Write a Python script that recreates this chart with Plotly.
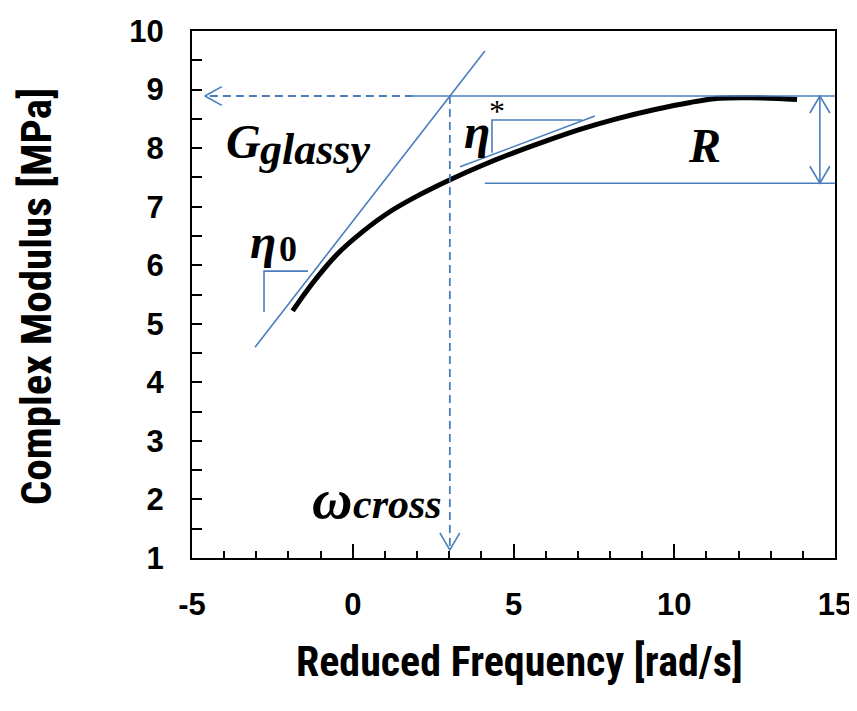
import plotly.graph_objects as go

# ---- data ----
curve_x = [-1.87, -1.24, -0.5, 0.3, 1.2, 2.1, 3.06, 4.0, 5.0, 6.0, 7.07, 8.2, 9.4, 10.5, 11.4, 12.36, 13.82]
curve_y = [5.22, 5.70, 6.18, 6.57, 6.93, 7.21, 7.47, 7.70, 7.92, 8.12, 8.32, 8.50, 8.66, 8.78, 8.85, 8.86, 8.83]

x_ticks = [-5, 0, 5, 10, 15]
y_ticks = [1, 2, 3, 4, 5, 6, 7, 8, 9, 10]

g_glassy_level = 8.89
r_low_level = 7.40
omega_cross = 3.02
glassy_arrow_x = [1.87, -4.6]
glassy_solid_x = [1.87, 15.0]
cross_arrow_y = [g_glassy_level, 1.14]
r_line_x = [4.11, 15.0]
r_arrow_x = 14.53

tangent0_x = [-3.04, 4.11]
tangent0_y = [4.60, 9.66]
tangent_star_x = [3.34, 7.53]
tangent_star_y = [7.68, 8.55]
eta0_tri_x = [-2.76, -2.76, -1.39]
eta0_tri_y = [5.20, 5.90, 5.90]
etastar_tri_x = [4.33, 4.33, 7.13]
etastar_tri_y = [7.92, 8.48, 8.48]

BLUE = "#4A7EBB"
fig = go.Figure()

def line(xs, ys, dash=None, width=1.6, color=BLUE):
    fig.add_trace(go.Scatter(x=xs, y=ys, mode="lines", showlegend=False, hoverinfo="skip",
                             line=dict(color=color, width=width, dash=dash)))

# black master curve
fig.add_trace(go.Scatter(x=curve_x, y=curve_y, mode="lines", showlegend=False,
                         line=dict(color="black", width=5, shape="spline", smoothing=1.0)))

# tangents and triangles
line(tangent0_x, tangent0_y)
line(tangent_star_x, tangent_star_y)
line(eta0_tri_x, eta0_tri_y)
line(etastar_tri_x, etastar_tri_y)

# glassy level lines
line(glassy_arrow_x, [g_glassy_level] * 2, dash="8px,5px", width=1.8)
line(glassy_solid_x, [g_glassy_level] * 2)
line([omega_cross] * 2, cross_arrow_y, dash="8px,5px", width=1.8)
line(r_line_x, [r_low_level] * 2)
line([r_arrow_x] * 2, [g_glassy_level, r_low_level])

# open V arrowheads (scaled from pixel size to data units)
ax_h, ay_h = 0.53, 0.16   # horizontal arrow
ax_v, ay_v = 0.31, 0.29   # vertical arrows
tip = glassy_arrow_x[1]
line([tip + ax_h, tip, tip + ax_h], [g_glassy_level + ay_h, g_glassy_level, g_glassy_level - ay_h])
tip = cross_arrow_y[1]
line([omega_cross - ax_v, omega_cross, omega_cross + ax_v], [tip + ay_v, tip, tip + ay_v])
line([r_arrow_x - ax_v, r_arrow_x, r_arrow_x + ax_v],
     [g_glassy_level - ay_v, g_glassy_level, g_glassy_level - ay_v])
line([r_arrow_x - ax_v, r_arrow_x, r_arrow_x + ax_v],
     [r_low_level + ay_v, r_low_level, r_low_level + ay_v])

SERIF = "Liberation Serif, DejaVu Serif, serif"

def label(text, x, y, size, bold=True, italic=True):
    t = text
    if italic:
        t = "<i>" + t + "</i>"
    if bold:
        t = "<b>" + t + "</b>"
    fig.add_annotation(x=x, y=y, xref="x", yref="y", text=t, showarrow=False,
                       font=dict(family=SERIF, size=size, color="black"),
                       xanchor="center", yanchor="middle")

label("G", -3.41, 8.12, 48)
label("glassy", -1.2, 7.98, 44)
label("η", -2.78, 6.40, 48)
label("0", -2.02, 6.27, 36, italic=False)
label("η", 3.85, 8.28, 48)
label("*", 4.49, 8.64, 32, bold=False, italic=False)
label("R", 10.93, 8.05, 48)
label("ω", -0.62, 2.01, 56)
label("cross", 1.38, 1.92, 42)

TICK_FONT = dict(family="Liberation Sans, Arial, sans-serif", size=31, color="black", weight="bold")
TITLE_FONT = dict(family="Liberation Sans Narrow, Roboto Condensed, Liberation Sans, Arial, sans-serif",
                  size=42, color="black")

fig.add_annotation(xref="paper", yref="paper", x=-0.2426, y=0.495, text="<b>Complex Modulus [MPa]</b>",
                   textangle=-90, showarrow=False, font=dict(TITLE_FONT, size=43),
                   xanchor="center", yanchor="middle")
fig.add_annotation(xref="paper", yref="paper", x=0.51, y=-0.197, text="<b>Reduced Frequency [rad/s]</b>",
                   showarrow=False, font=TITLE_FONT, xanchor="center", yanchor="middle")

fig.update_xaxes(range=[-5, 15], tickvals=x_ticks, ticktext=[str(v) for v in x_ticks],
                 ticks="inside", ticklen=14, tickwidth=2, tickcolor="black",
                 minor=dict(dtick=1, ticks="inside", ticklen=7, tickwidth=2, tickcolor="black"),
                 showline=True, linecolor="black", linewidth=2, mirror=True,
                 showgrid=False, zeroline=False, automargin=False,
                 tickfont=TICK_FONT, ticklabelstandoff=18)
fig.update_yaxes(range=[1, 10], tickvals=y_ticks, ticktext=[str(v) for v in y_ticks],
                 ticks="inside", ticklen=10, tickwidth=2, tickcolor="black",
                 minor=dict(dtick=0.5, ticks="inside", ticklen=10, tickwidth=2, tickcolor="black"),
                 showline=True, linecolor="black", linewidth=2, mirror=True,
                 showgrid=False, zeroline=False, automargin=False,
                 tickfont=TICK_FONT, ticklabelstandoff=20)

# the page body has an 8px margin, so the figure is sized/offset to fit the 857x711 window
fig.update_layout(width=849, height=703, margin=dict(l=184, r=22, t=23, b=153),
                  plot_bgcolor="white", paper_bgcolor="white")
fig.write_html("out.html")
